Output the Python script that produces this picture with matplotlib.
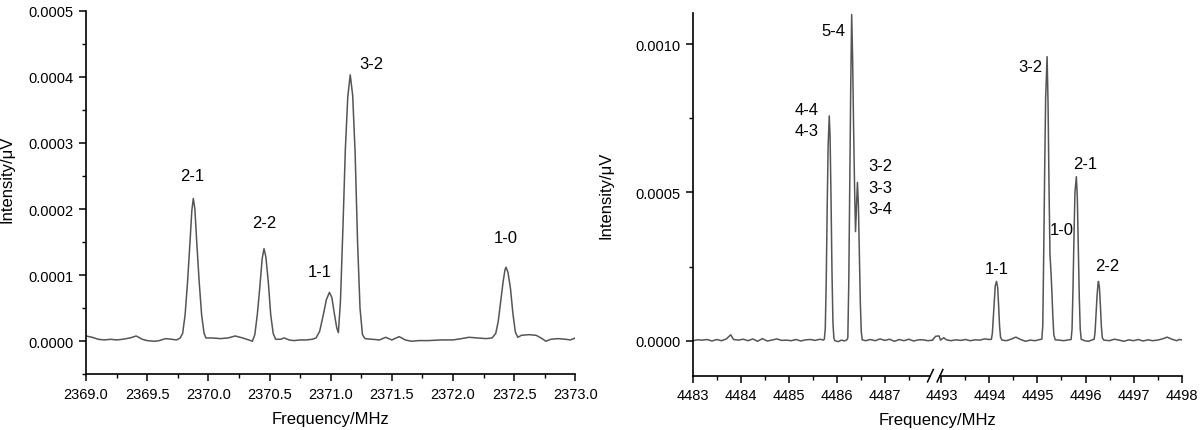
import matplotlib
matplotlib.use("Agg")
import matplotlib.pyplot as plt
import numpy as np
from matplotlib.ticker import FixedLocator, MultipleLocator, StrMethodFormatter

plt.rcParams['font.family'] = ['Liberation Sans', 'DejaVu Sans']

# traces: (frequency MHz, intensity in 1e-6 uV)
left_trace = [
    (2369.00, 8), (2369.05, 6), (2369.10, 3), (2369.15, 2), (2369.20, 3), (2369.25, 2),
    (2369.30, 3), (2369.36, 5), (2369.41, 8), (2369.46, 3), (2369.50, 1), (2369.56, 0),
    (2369.60, 1), (2369.65, 4), (2369.70, 3), (2369.74, 2), (2369.77, 5),
    (2369.79, 12), (2369.81, 40), (2369.83, 90), (2369.85, 150), (2369.865, 198),
    (2369.877, 216), (2369.89, 200), (2369.905, 150), (2369.925, 90), (2369.945, 40),
    (2369.965, 12), (2369.98, 5),
    (2370.03, 5), (2370.10, 4), (2370.16, 5), (2370.22, 8), (2370.28, 5), (2370.33, 2),
    (2370.36, 0),
    (2370.38, 10), (2370.40, 40), (2370.42, 80), (2370.44, 125), (2370.455, 140),
    (2370.47, 128), (2370.49, 90), (2370.51, 40), (2370.53, 12), (2370.55, 3),
    (2370.59, 3), (2370.62, 5), (2370.66, 2), (2370.70, 1), (2370.75, 2), (2370.80, 2),
    (2370.85, 3), (2370.88, 5),
    (2370.91, 15), (2370.94, 40), (2370.965, 63), (2370.99, 74), (2371.01, 66),
    (2371.03, 42), (2371.05, 20), (2371.063, 13), (2371.08, 60), (2371.10, 170),
    (2371.12, 290), (2371.14, 370), (2371.16, 403), (2371.18, 372), (2371.20, 285),
    (2371.22, 150), (2371.24, 50), (2371.26, 10), (2371.28, 4),
    (2371.34, 3), (2371.40, 2), (2371.45, 6), (2371.50, 2), (2371.56, 7), (2371.61, 2),
    (2371.66, 0), (2371.72, 1), (2371.80, 1), (2371.90, 2), (2372.00, 2), (2372.07, 4),
    (2372.13, 6), (2372.20, 5), (2372.27, 4), (2372.32, 5),
    (2372.35, 12), (2372.37, 30), (2372.39, 60), (2372.41, 90), (2372.425, 108),
    (2372.434, 112), (2372.45, 104), (2372.47, 80), (2372.49, 42), (2372.51, 14),
    (2372.53, 6),
    (2372.56, 9), (2372.62, 10), (2372.68, 9), (2372.72, 5), (2372.76, 0), (2372.80, 3),
    (2372.86, 4), (2372.92, 3), (2372.96, 2), (2373.00, 5),
]

right_trace = [
    (4483.00, 0), (4483.10, 3), (4483.20, 2), (4483.30, 4), (4483.40, -1), (4483.50, 4),
    (4483.60, 0), (4483.70, 6), (4483.79, 20), (4483.85, 4), (4483.95, 2), (4484.05, 5),
    (4484.15, 0), (4484.25, 6), (4484.35, -2), (4484.45, 7), (4484.55, -1), (4484.65, 2),
    (4484.75, 6), (4484.85, 1), (4484.95, 2), (4485.05, 0), (4485.15, 4), (4485.25, -1),
    (4485.35, 3), (4485.45, 4), (4485.55, 1), (4485.65, 5), (4485.72, 2),
    (4485.74, 5), (4485.76, 40), (4485.78, 200), (4485.80, 450), (4485.82, 660),
    (4485.843, 758), (4485.86, 690), (4485.88, 480), (4485.90, 230), (4485.92, 60),
    (4485.94, 8), (4485.96, 0),
    (4486.03, -3), (4486.10, 2), (4486.16, -1), (4486.21, 3),
    (4486.23, 10), (4486.25, 200), (4486.27, 520), (4486.29, 850), (4486.31, 1100),
    (4486.33, 950), (4486.35, 720), (4486.37, 520), (4486.39, 368), (4486.41, 450),
    (4486.43, 534), (4486.45, 460), (4486.47, 300), (4486.49, 130), (4486.51, 30),
    (4486.53, 3),
    (4486.60, 0), (4486.70, 4), (4486.80, 0), (4486.90, 6), (4487.00, 1), (4487.10, 5),
    (4487.20, -2), (4487.30, 4), (4487.40, 0), (4487.50, 5), (4487.60, -1), (4487.70, 3),
    (4487.80, 3), (4487.90, 0), (4488.00, 2),
    (4492.82, 4), (4492.88, 15), (4492.95, 16), (4492.98, 2), (4493.05, 10), (4493.10, 3),
    (4493.20, 0), (4493.30, 3), (4493.40, 1), (4493.50, 4), (4493.60, 0), (4493.70, 3),
    (4493.80, 2), (4493.90, 6), (4494.00, 4), (4494.04, 5),
    (4494.06, 25), (4494.08, 80), (4494.10, 140), (4494.12, 185), (4494.147, 200),
    (4494.17, 180), (4494.19, 120), (4494.21, 50), (4494.23, 12), (4494.26, 2),
    (4494.35, 0), (4494.45, 5), (4494.55, 12), (4494.65, 4), (4494.75, -2), (4494.85, 2),
    (4494.95, 0), (4495.05, 4), (4495.09, 5),
    (4495.11, 50), (4495.13, 300), (4495.15, 580), (4495.17, 820), (4495.20, 958),
    (4495.22, 800), (4495.24, 520), (4495.26, 290), (4495.28, 235), (4495.30, 165),
    (4495.32, 80), (4495.34, 20), (4495.37, 3),
    (4495.45, 2), (4495.55, 0), (4495.65, 3), (4495.70, 4),
    (4495.72, 40), (4495.74, 180), (4495.76, 350), (4495.78, 500), (4495.81, 553),
    (4495.83, 480), (4495.85, 320), (4495.87, 150), (4495.89, 40), (4495.91, 5),
    (4495.98, 0), (4496.06, -2), (4496.15, 3),
    (4496.18, 5), (4496.20, 30), (4496.22, 90), (4496.24, 150), (4496.26, 190),
    (4496.27, 200), (4496.29, 180), (4496.31, 120), (4496.33, 50), (4496.35, 10),
    (4496.38, 2),
    (4496.50, 0), (4496.60, 5), (4496.70, 2), (4496.80, -2), (4496.90, 3), (4497.00, 0),
    (4497.10, 4), (4497.20, -1), (4497.30, 3), (4497.40, 0), (4497.50, 2), (4497.60, 6),
    (4497.70, 12), (4497.80, 5), (4497.90, 0), (4497.95, 4), (4498.00, 3),
]

# peak labels: (text, frequency, intensity)
left_labels = [
    ("2-1", 2369.87, 0.000250), ("2-2", 2370.455, 0.000180), ("1-1", 2370.91, 0.000106),
    ("3-2", 2371.33, 0.000420), ("1-0", 2372.43, 0.000157),
]
right_labels = [
    ("5-4", 4485.93, 0.001045), ("4-4", 4485.37, 0.000779), ("4-3", 4485.37, 0.000710),
    ("3-2", 4486.90, 0.000590), ("3-3", 4486.90, 0.000517), ("3-4", 4486.90, 0.000446),
    ("3-2", 4494.855, 0.000926), ("1-0", 4495.50, 0.000375), ("2-1", 4496.00, 0.000599),
    ("2-2", 4496.46, 0.000255), ("1-1", 4494.15, 0.000245),
]

left_xticks = np.arange(2369.0, 2373.01, 0.5)
right_xticks = [4483, 4484, 4485, 4486, 4487, 4493, 4494, 4495, 4496, 4497, 4498]
right_xminor = [4483.5, 4484.5, 4485.5, 4486.5, 4487.5,
                4493.5, 4494.5, 4495.5, 4496.5, 4497.5]

# broken axis: 4483-4488 | 4492.82-4498
B1, B2, EPS = 4488.0, 4492.82, 1e-4
GAP = (B2 - B1) * EPS


def fwd(f):
    f = np.asarray(f, dtype=float)
    return np.where(f <= B1, f - 4483.0,
                    np.where(f < B2, 5.0 + (f - B1) * EPS, 5.0 + GAP + (f - B2)))


def inv(d):
    d = np.asarray(d, dtype=float)
    return np.where(d <= 5.0, d + 4483.0,
                    np.where(d < 5.0 + GAP, B1 + (d - 5.0) / EPS, d - 5.0 - GAP + B2))


line_color = '#555555'
fig = plt.figure(figsize=(12, 4.31), dpi=100)
ax1 = fig.add_axes([0.0717, 0.1292, 0.4077, 0.8436])
ax2 = fig.add_axes([0.5773, 0.1260, 0.4073, 0.8415])

lf, li = np.array(left_trace).T
ax1.plot(lf, li * 1e-6, color=line_color, lw=1.1)
rf, ri = np.array(right_trace).T
ax2.set_xscale('function', functions=(fwd, inv))
ax2.plot(rf, ri * 1e-6, color=line_color, lw=1.1)

for ax in (ax1, ax2):
    for s in ('top', 'right'):
        ax.spines[s].set_visible(False)
    for s in ('left', 'bottom'):
        ax.spines[s].set_linewidth(1.2)
    ax.tick_params(which='major', direction='out', length=5, width=1.1, labelsize=10.5, pad=4)
    ax.tick_params(which='minor', direction='out', length=3, width=1.0)
    ax.yaxis.set_major_formatter(StrMethodFormatter('{x:.4f}'))
    ax.set_xlabel("Frequency/MHz", fontsize=12)
    ax.set_ylabel("Intensity/\u03bcV", fontsize=12)

ax1.set_xlim(2369.0, 2373.0)
ax1.set_ylim(-0.00005, 0.0005)
ax1.xaxis.set_major_locator(FixedLocator(left_xticks))
ax1.xaxis.set_minor_locator(MultipleLocator(0.25))
ax1.xaxis.set_major_formatter(StrMethodFormatter('{x:.1f}'))
ax1.yaxis.set_major_locator(MultipleLocator(0.0001))
ax1.yaxis.set_minor_locator(MultipleLocator(0.00005))
ax1.yaxis.set_label_coords(-0.147, 0.54)
ax1.xaxis.set_label_coords(0.5, -0.10)

ax2.set_xlim(4483.0, 4498.0)
ax2.set_ylim(-0.000118, 0.001105)
ax2.xaxis.set_major_locator(FixedLocator(right_xticks))
ax2.xaxis.set_minor_locator(FixedLocator(right_xminor))
ax2.xaxis.set_major_formatter(StrMethodFormatter('{x:.0f}'))
ax2.yaxis.set_major_locator(MultipleLocator(0.0005))
ax2.yaxis.set_minor_locator(MultipleLocator(0.00025))
ax2.yaxis.set_label_coords(-0.163, 0.5)
ax2.xaxis.set_label_coords(0.5, -0.10)

# axis break marks
ax2.spines['bottom'].set_visible(False)
slash_l, slash_r = inv([4.95, 5.15])
tr = ax2.get_xaxis_transform()
ax2.plot([4483.0, slash_l], [0, 0], color='black', lw=1.2, transform=tr, clip_on=False)
ax2.plot([slash_r, 4498.0], [0, 0], color='black', lw=1.2, transform=tr, clip_on=False)
for d in (4.95, 5.15):
    x0, x1 = inv([d - 0.06, d + 0.06])
    ax2.plot([x0, x1], [-0.017, 0.017], color='black', lw=1.1, transform=tr, clip_on=False)

for txt, x, y in left_labels:
    ax1.text(x, y, txt, ha='center', va='center', fontsize=12)
for txt, x, y in right_labels:
    ax2.text(x, y, txt, ha='center', va='center', fontsize=12)

fig.savefig("out.png", dpi=100)
